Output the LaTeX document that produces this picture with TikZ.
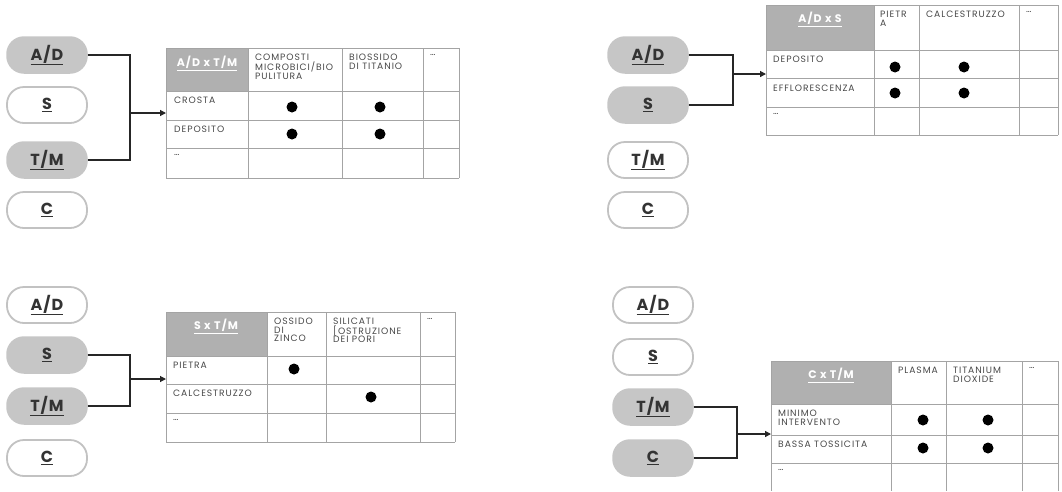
\documentclass[tikz,border=0pt]{standalone}
\usepackage{fontspec}
\setmainfont{Poppins}
\newfontfamily\tabfont[LetterSpace=10]{Poppins}
\newfontfamily\pillfont[LetterSpace=6]{Poppins}
\usetikzlibrary{arrows.meta}
\definecolor{pillgrey}{HTML}{C6C6C6}
\definecolor{pillline}{HTML}{C2C2C2}
\definecolor{hdrgrey}{HTML}{B0B0B0}
\definecolor{gridc}{HTML}{A4A4A4}
\definecolor{txtc}{HTML}{484848}
\definecolor{pilltxt}{HTML}{333333}
\begin{document}
\begin{tikzpicture}[x=1pt,y=-1pt,
  pill/.style={rounded corners=17pt, minimum width=80pt, minimum height=36pt, inner sep=0pt,
    font=\pillfont\fontsize{16}{18}\selectfont\bfseries, text=pilltxt},
  pillon/.style={pill, fill=pillgrey, draw=pillgrey, line width=1.5pt},
  pilloff/.style={pill, fill=white, draw=pillline, line width=1.8pt},
  conn/.style={line width=1.2pt, draw=black!85},
  arr/.style={conn, -{Triangle[length=6pt,width=6pt]}},
  gridl/.style={draw=gridc, line width=0.9pt},
  hdr/.style={anchor=north, inner sep=0pt, text=white, font=\tabfont\fontsize{11}{12}\selectfont\bfseries},
  ctxt/.style={anchor=north west, inner sep=0pt, align=left, text=txtc, font=\tabfont\fontsize{9.2}{8.6}\selectfont},
  dotn/.style={circle, fill=black, minimum size=11pt, inner sep=0pt},
]
\useasboundingbox (0,0) rectangle (1062,491);

% ================= Quadrant 1 =================
\node[pillon]  (ad1) at (47,55)  {\underline{A/D}};
\node[pilloff] (s1)  at (47,105) {\underline{S}};
\node[pillon]  (tm1) at (47,160) {\underline{T/M}};
\node[pilloff] (c1)  at (47,210) {\underline{C}};
\fill[hdrgrey] (166,48) rectangle (248,91);
\foreach \x in {166,248,342,423,459} \draw[gridl] (\x,48) -- (\x,178);
\foreach \y in {48,91,120,148,178} \draw[gridl] (166,\y) -- (459,\y);
\coordinate (j1) at (130,113);
\coordinate (t1) at (166,113);
\draw[conn] (ad1.east) -| (j1) |- (tm1.east);
\draw[arr] (j1) -- (t1);
\node[hdr]  (h1)  at (207,56) {\underline{A/D x T/M}};
\node[ctxt] (h1a) at (255,54) {COMPOSTI\\MICROBICI/BIO\\PULITURA};
\node[ctxt] (h1b) at (349,54) {BIOSSIDO\\DI TITANIO};
\node[ctxt] (h1c) at (430,54) {…};
\node[ctxt] (r1a) at (174,97)  {CROSTA};
\node[ctxt] (r1b) at (174,126) {DEPOSITO};
\node[ctxt] (r1c) at (174,154) {…};
\node[dotn] (d1a) at (292,107) {};
\node[dotn] (d1b) at (380,107) {};
\node[dotn] (d1c) at (292,134) {};
\node[dotn] (d1d) at (380,134) {};

% ================= Quadrant 2 =================
\node[pillon]  (ad2) at (648,55)  {\underline{A/D}};
\node[pillon]  (s2)  at (648,105) {\underline{S}};
\node[pilloff] (tm2) at (648,160) {\underline{T/M}};
\node[pilloff] (c2)  at (648,210) {\underline{C}};
\fill[hdrgrey] (766,5) rectangle (874,50);
\foreach \x in {766,874,919,1019,1058} \draw[gridl] (\x,5) -- (\x,135);
\foreach \y in {5,50,78,107,135} \draw[gridl] (766,\y) -- (1058,\y);
\coordinate (j2) at (733,74);
\coordinate (t2) at (766,74);
\draw[conn] (ad2.east) -| (j2) |- (s2.east);
\draw[arr] (j2) -- (t2);
\node[hdr]  (h2)  at (820,12) {\underline{A/D x S}};
\node[ctxt] (h2a) at (880,11) {PIETR\\A};
\node[ctxt] (h2b) at (926,11) {CALCESTRUZZO};
\node[ctxt] (h2c) at (1026,11) {…};
\node[ctxt] (r2a) at (773,56) {DEPOSITO};
\node[ctxt] (r2b) at (773,85) {EFFLORESCENZA};
\node[ctxt] (r2c) at (773,113) {…};
\node[dotn] (d2a) at (895,67) {};
\node[dotn] (d2b) at (964,67) {};
\node[dotn] (d2c) at (895,93) {};
\node[dotn] (d2d) at (964,93) {};

% ================= Quadrant 3 =================
\node[pilloff] (ad3) at (47,305) {\underline{A/D}};
\node[pillon]  (s3)  at (47,355) {\underline{S}};
\node[pillon]  (tm3) at (47,406) {\underline{T/M}};
\node[pilloff] (c3)  at (47,458) {\underline{C}};
\fill[hdrgrey] (166,312) rectangle (267,356);
\foreach \x in {166,267,326,420,455} \draw[gridl] (\x,312) -- (\x,442);
\foreach \y in {312,356,384,413,442} \draw[gridl] (166,\y) -- (455,\y);
\coordinate (j3) at (130,379);
\coordinate (t3) at (166,379);
\draw[conn] (s3.east) -| (j3) |- (tm3.east);
\draw[arr] (j3) -- (t3);
\node[hdr]  (h3)  at (216,319) {\underline{S x T/M}};
\node[ctxt] (h3a) at (274,318) {OSSIDO\\DI\\ZINCO};
\node[ctxt] (h3b) at (333,318) {SILICATI\\{}[OSTRUZIONE\\DEI PORI};
\node[ctxt] (h3c) at (427,318) {…};
\node[ctxt] (r3a) at (173,362) {PIETRA};
\node[ctxt] (r3b) at (173,390) {CALCESTRUZZO};
\node[ctxt] (r3c) at (173,419) {…};
\node[dotn] (d3a) at (294,369) {};
\node[dotn] (d3b) at (371,397) {};

% ================= Quadrant 4 =================
\node[pilloff] (ad4) at (653,305) {\underline{A/D}};
\node[pilloff] (s4)  at (653,357) {\underline{S}};
\node[pillon]  (tm4) at (653,407) {\underline{T/M}};
\node[pillon]  (c4)  at (653,458) {\underline{C}};
\fill[hdrgrey] (771,361) rectangle (891,404);
\foreach \x in {771,891,946,1022,1058} \draw[gridl] (\x,361) -- (\x,491);
\foreach \y in {361,404,435,463} \draw[gridl] (771,\y) -- (1058,\y);
\coordinate (j4) at (737,434);
\coordinate (t4) at (771,434);
\draw[conn] (tm4.east) -| (j4) |- (c4.east);
\draw[arr] (j4) -- (t4);
\node[hdr]  (h4)  at (831,368) {\underline{C x T/M}};
\node[ctxt] (h4a) at (898,367) {PLASMA};
\node[ctxt] (h4b) at (953,367) {TITANIUM\\DIOXIDE};
\node[ctxt] (h4c) at (1029,367) {…};
\node[ctxt] (r4a) at (778,410) {MINIMO\\INTERVENTO};
\node[ctxt] (r4b) at (778,441) {BASSA TOSSICITA};
\node[ctxt] (r4c) at (778,469) {…};
\node[dotn] (d4a) at (923,420) {};
\node[dotn] (d4b) at (988,420) {};
\node[dotn] (d4c) at (923,448) {};
\node[dotn] (d4d) at (988,448) {};
\end{tikzpicture}
\end{document}
